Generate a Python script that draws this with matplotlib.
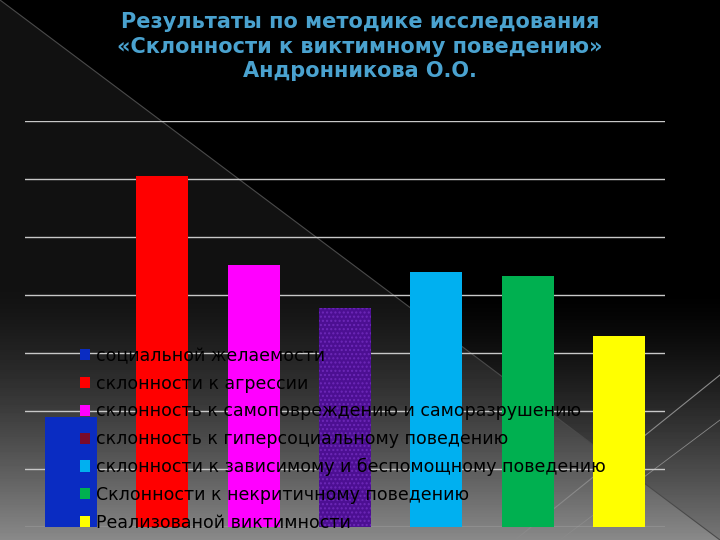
import numpy as np
import matplotlib
matplotlib.use("Agg")
import matplotlib.pyplot as plt
from matplotlib.patches import Patch

# data
labels = [
    "социальной желаемости",
    "склонности к агрессии",
    "склонность к самоповреждению и саморазрушению",
    "склонность к гиперсоциальному поведению",
    "склонности к зависимому и беспомощному поведению",
    "Склонности к некритичному поведению",
    "Реализованой виктимности",
]
values = [1.9, 6.05, 4.52, 3.78, 4.4, 4.32, 3.3]
bar_colors = ["#0a2cc2", "#ff0000", "#ff00ff", "#4c0f92", "#00b0f0", "#00b050", "#ffff00"]
legend_colors = ["#0a2cc2", "#ff0000", "#ff00ff", "#7a0a2a", "#00b0f0", "#00b050", "#ffff00"]

title = ("Результаты по методике исследования\n"
         "«Склонности к виктимному поведению»\n"
         "Андронникова О.О.")

fig = plt.figure(figsize=(7.2, 5.4), dpi=100)
fig.patch.set_facecolor("black")

# slide background: dark top, grey gradient at the bottom, diagonal panel
bg = fig.add_axes([0, 0, 1, 1], zorder=-1)
H, W = 540, 720
yy, xx = np.mgrid[0:H, 0:W]
shade = np.clip((yy - 290) / 250.0, 0, 1) ** 1.4 * 0.47
shade += 0.07 * (yy > xx * 0.75)
shade = np.clip(shade, 0, 1)
bg.imshow(shade, cmap="gray", vmin=0, vmax=1, extent=[0, W, H, 0], aspect="auto")
bg.plot([0, 720], [0, 540], color="#4a4a4a", lw=0.8)
bg.plot([720, 515], [375, 540], color="#8a8a8a", lw=0.8)
bg.plot([560, 720], [540, 420], color="#8a8a8a", lw=0.6)
bg.set_xlim(0, W)
bg.set_ylim(H, 0)
bg.axis("off")

fig.text(0.5, 0.978, title, ha="center", va="top", fontsize=15, fontweight="bold",
         color="#4aa2cf", linespacing=1.3)

ax = fig.add_axes([25 / 720, 13 / 540, 640 / 720, 406 / 540])
ax.set_facecolor("none")
x = np.arange(len(values))
bars = ax.bar(x, values, width=0.57, color=bar_colors, zorder=3)
bars[3].set_hatch("....")
bars[3].set_edgecolor("#6d28b8")
bars[3].set_linewidth(0)

ax.set_xlim(-0.5, len(values) - 0.5)
ax.set_ylim(0, 7)
ax.set_yticks(range(0, 8))
ax.yaxis.grid(True, color="#c8c8c8", lw=1, zorder=0)
ax.tick_params(left=False, bottom=False, labelleft=False, labelbottom=False)
for s in ax.spines.values():
    s.set_visible(False)

handles = [Patch(facecolor=c, edgecolor="none") for c in legend_colors]
leg = ax.legend(handles, labels, loc="upper left", bbox_to_anchor=(80 / 720, 1 - 347 / 540),
                bbox_transform=fig.transFigure, frameon=False, fontsize=12.5,
                handlelength=0.6, handleheight=0.6, handletextpad=0.3,
                labelspacing=0.56, borderpad=0, borderaxespad=0)
leg.set_zorder(5)
for t in leg.get_texts():
    t.set_color("black")

fig.savefig("out.png", dpi=100, facecolor=fig.get_facecolor())
